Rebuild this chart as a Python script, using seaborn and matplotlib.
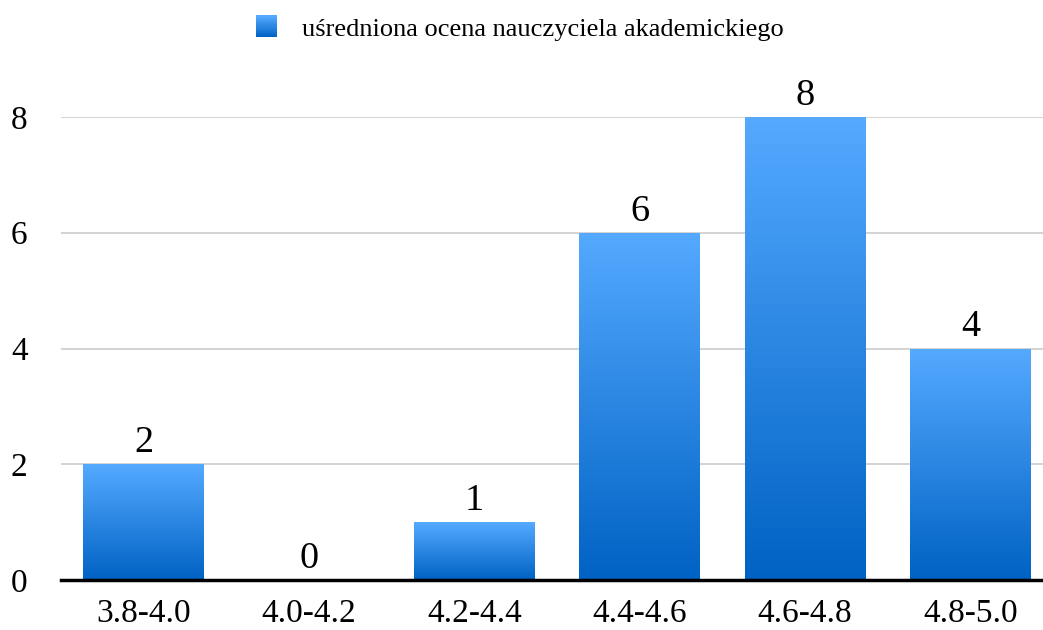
import numpy as np
import pandas as pd
import matplotlib
matplotlib.use('Agg')
import matplotlib.pyplot as plt
import seaborn as sns
from matplotlib.colors import LinearSegmentedColormap
from matplotlib.patches import Rectangle
from matplotlib.legend_handler import HandlerBase

# Data
categories = ['3.8-4.0', '4.0-4.2', '4.2-4.4', '4.4-4.6', '4.6-4.8', '4.8-5.0']
counts = [2, 0, 1, 6, 8, 4]
series_name = 'uśredniona ocena nauczyciela akademickiego'
yticks = [0, 2, 4, 6, 8]

df = pd.DataFrame({'przedzial': categories, 'liczba': counts})

sns.set_style('white')
plt.rcParams['font.family'] = ['Liberation Serif', 'DejaVu Serif']
plt.rcParams['text.color'] = 'black'
plt.rcParams['xtick.color'] = 'black'
plt.rcParams['ytick.color'] = 'black'

top_color = '#55aaff'
bottom_color = '#0062c4'
grad = LinearSegmentedColormap.from_list('bluegrad', [bottom_color, top_color])

fig = plt.figure(figsize=(10.43, 6.3), dpi=100)
# axes run a little past the right edge of the picture, like the original
ax = fig.add_axes([61 / 1043, 50 / 630, 992 / 1043, 463 / 630])

sns.barplot(data=df, x='przedzial', y='liczba', color=top_color, width=0.73,
            ax=ax, zorder=2)

# gradient fill for every bar
gradient = np.linspace(0, 1, 256).reshape(-1, 1)
for bar in ax.patches:
    x0, y0 = bar.get_x(), bar.get_y()
    w, h = bar.get_width(), bar.get_height()
    if h <= 0:
        continue
    im = ax.imshow(gradient, cmap=grad, origin='lower', aspect='auto',
                   extent=[x0, x0 + w, y0, y0 + h], zorder=2.5)
    im.set_clip_path(bar)
    bar.set_alpha(0)

ax.set_xlim(-0.5, len(categories) - 0.5)
ax.set_ylim(0, 8)

# value labels
for c in ax.containers:
    ax.bar_label(c, labels=[str(v) for v in counts], padding=3,
                 fontsize=27.5, color='black', clip_on=False)

ax.set_yticks(yticks)
ax.yaxis.grid(True, color='#cccccc', linewidth=1.2, zorder=0)
ax.set_axisbelow(True)
ax.tick_params(axis='both', length=0, labelsize=24, colors='black')
ax.tick_params(axis='y', pad=24)
ax.tick_params(axis='x', pad=13)
ax.set_xlabel('')
ax.set_ylabel('')
for side in ['left', 'right', 'top']:
    ax.spines[side].set_visible(False)
ax.spines['bottom'].set_color('black')
ax.spines['bottom'].set_linewidth(2.5)
ax.spines['bottom'].set_zorder(5)


class GradientHandler(HandlerBase):
    def create_artists(self, legend, orig_handle, xdescent, ydescent,
                       width, height, fontsize, trans):
        side = height * 1.15
        x = -xdescent + (width - side) / 2
        y = -ydescent + (height - side) / 2
        n = 20
        arts = []
        for i in range(n):
            r = Rectangle((x, y + side * i / n), side, side / n + 0.3,
                          facecolor=grad(i / (n - 1)), edgecolor='none',
                          transform=trans)
            arts.append(r)
        return arts


handle = Rectangle((0, 0), 1, 1)
fig.legend([handle], [series_name], handler_map={Rectangle: GradientHandler()},
           loc='center', bbox_to_anchor=(518 / 1043, 1 - 29 / 630), frameon=False,
           fontsize=19, handlelength=1.1, handletextpad=0.8,
           labelcolor='black')

fig.savefig('out.png', dpi=100)
